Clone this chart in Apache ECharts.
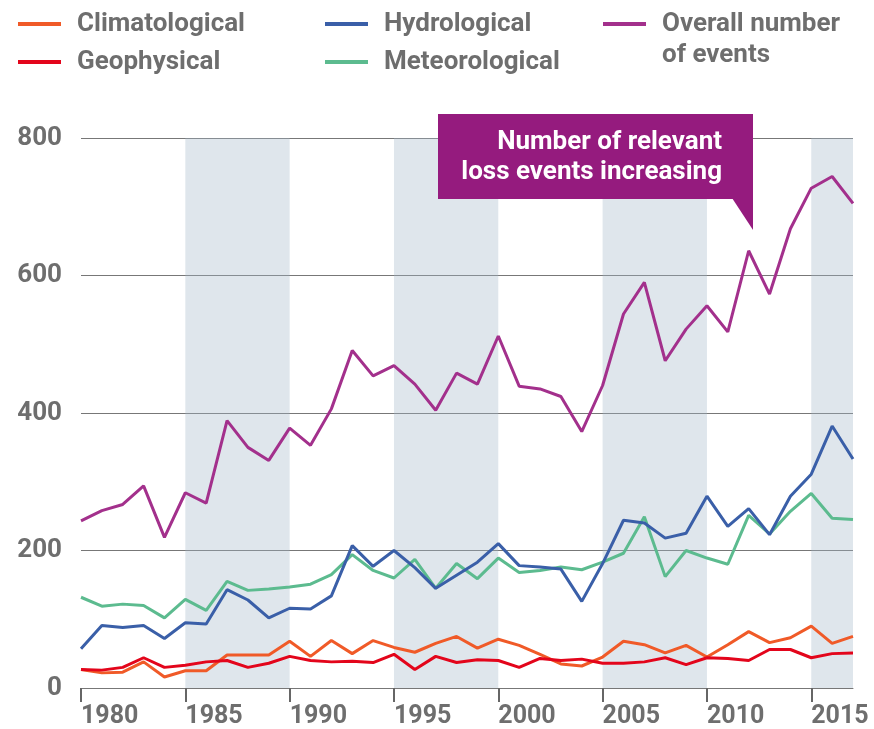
<!DOCTYPE html>
<html>
<head>
<meta charset="utf-8">
<script src="https://cdn.jsdelivr.net/npm/echarts@6/dist/echarts.min.js"></script>
<style>
  html, body { margin: 0; padding: 0; background: #fff; }
  #chart { width: 874px; height: 729px; }
</style>
</head>
<body>
<div id="chart"></div>
<script>
const years = [
  1980, 1981, 1982, 1983, 1984, 1985, 1986, 1987, 1988, 1989,
  1990, 1991, 1992, 1993, 1994, 1995, 1996, 1997, 1998, 1999,
  2000, 2001, 2002, 2003, 2004, 2005, 2006, 2007, 2008, 2009,
  2010, 2011, 2012, 2013, 2014, 2015, 2016, 2017,
];
const climatological = [
  27, 22, 23, 38, 16, 25, 25, 48, 48, 48,
  68, 46, 69, 50, 69, 59, 52, 65, 75, 58,
  71, 62, 49, 35, 32, 45, 68, 63, 51, 62,
  45, 63, 82, 66, 73, 90, 65, 75,
];
const geophysical = [
  27, 26, 30, 44, 30, 33, 38, 40, 30, 36,
  46, 40, 38, 39, 37, 49, 27, 46, 37, 41,
  40, 30, 43, 40, 42, 36, 36, 38, 44, 34,
  44, 43, 40, 56, 56, 44, 50, 51,
];
const hydrological = [
  57, 91, 88, 91, 72, 95, 93, 143, 128, 102,
  116, 115, 134, 207, 177, 200, 175, 145, 164, 183,
  210, 178, 176, 173, 126, 181, 244, 240, 218, 225,
  279, 235, 261, 223, 279, 311, 381, 333,
];
const meteorological = [
  132, 119, 122, 120, 102, 129, 113, 155, 142, 144,
  147, 151, 165, 194, 171, 160, 187, 145, 181, 159,
  189, 168, 171, 176, 172, 183, 196, 249, 162, 200,
  189, 180, 251, 224, 257, 283, 247, 245,
];
const overall = [
  243, 258, 267, 294, 219, 284, 269, 389, 350, 331,
  378, 353, 406, 491, 454, 469, 442, 404, 458, 442,
  512, 439, 435, 424, 373, 440, 544, 590, 476, 522,
  556, 518, 636, 573, 668, 727, 744, 705,
];
const yearTicks = [1980, 1985, 1990, 1995, 2000, 2005, 2010, 2015];
const bands = [[1985, 1990], [1995, 2000], [2005, 2010], [2015, 2017]];

const textGrey = '#6e6e6e';
const font = 'Roboto, sans-serif';

const pair = (arr) => arr.map((v, i) => [years[i], v]);

const lineSeries = (name, data, color) => ({
  name: name,
  type: 'line',
  data: pair(data),
  showSymbol: false,
  symbol: 'none',
  lineStyle: { color: color, width: 3 },
  itemStyle: { color: color },
  z: 3,
});

const legendBase = (left, names) => ({
  data: names,
  left: left,
  top: 9,
  orient: 'vertical',
  align: 'left',
  icon: 'rect',
  itemWidth: 43,
  itemHeight: 4,
  itemGap: 8,
  padding: 0,
  selectedMode: false,
  textStyle: {
    fontFamily: font,
    fontSize: 26,
    fontWeight: 'bold',
    color: textGrey,
    lineHeight: 30,
    padding: [0, 0, 0, 11],
  },
  formatter: (name) => (name === 'Overall number of events' ? 'Overall number' : name),
});

let myChart = echarts.init(document.getElementById('chart'));

let option = {
  animation: false,
  backgroundColor: '#fff',
  legend: [
    legendBase(18, ['Climatological', 'Geophysical']),
    legendBase(325, ['Hydrological', 'Meteorological']),
    legendBase(603, ['Overall number of events']),
  ],
  grid: { left: 81, right: 21, top: 138, bottom: 41 },
  xAxis: {
    type: 'value',
    min: 1980,
    max: 2017,
    interval: 5,
    axisLine: { show: true, lineStyle: { color: '#777', width: 1 } },
    axisTick: {
      show: true,
      length: 14,
      customValues: yearTicks,
      lineStyle: { color: '#666', width: 2 },
    },
    axisLabel: {
      customValues: yearTicks,
      align: 'left',
      margin: 16,
      fontFamily: font,
      fontSize: 25,
      fontWeight: 'bold',
      color: textGrey,
      formatter: (v) => String(v),
    },
    splitLine: { show: false },
  },
  yAxis: {
    type: 'value',
    min: 0,
    max: 800,
    interval: 200,
    axisLine: { show: false },
    axisTick: { show: false },
    axisLabel: {
      margin: 19,
      fontFamily: font,
      fontSize: 26,
      fontWeight: 'bold',
      color: textGrey,
    },
    splitLine: { lineStyle: { color: '#777', width: 1 } },
  },
  series: [
    {
      name: 'bands',
      type: 'line',
      data: [],
      silent: true,
      z: 1,
      markArea: {
        silent: true,
        itemStyle: { color: 'rgba(164,184,201,0.35)' },
        data: bands.map((b) => [{ xAxis: b[0] }, { xAxis: b[1] }]),
      },
    },
    lineSeries('Meteorological', meteorological, '#5cbb8f'),
    lineSeries('Hydrological', hydrological, '#3a5fa8'),
    lineSeries('Climatological', climatological, '#f05a28'),
    lineSeries('Geophysical', geophysical, '#e3051b'),
    lineSeries('Overall number of events', overall, '#a3308c'),
  ],
  graphic: [
    {
      type: 'text',
      x: 662,
      y: 55,
      style: {
        text: 'of events',
        font: 'bold 26px Roboto, sans-serif',
        fill: textGrey,
        verticalAlign: 'middle',
      },
    },
    {
      type: 'rect',
      shape: { x: 438, y: 114, width: 315, height: 85 },
      style: { fill: '#951b7e' },
      z: 10,
    },
    {
      type: 'polygon',
      shape: { points: [[732, 198], [753, 198], [753, 230]] },
      style: { fill: '#951b7e' },
      z: 10,
    },
    {
      type: 'text',
      x: 722,
      y: 157,
      style: {
        text: 'Number of relevant\nloss events increasing',
        font: 'bold 26px Roboto, sans-serif',
        fill: '#fff',
        align: 'right',
        verticalAlign: 'middle',
        lineHeight: 30,
      },
      z: 11,
    },
  ],
};

myChart.setOption(option);
window.addEventListener('resize', () => {
  myChart.resize();
});
</script>
</body>
</html>
